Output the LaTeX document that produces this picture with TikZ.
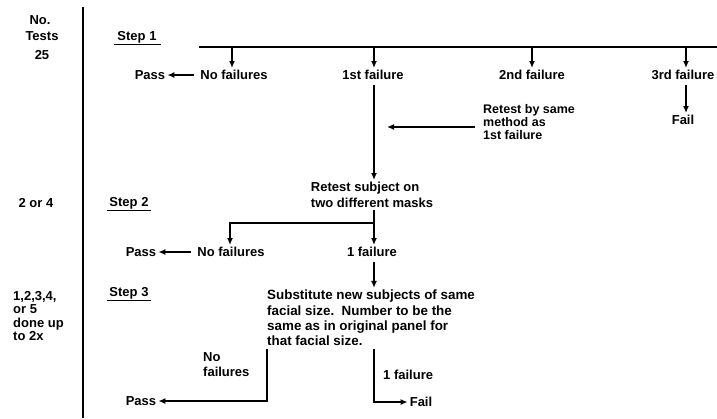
\documentclass[tikz,border=0pt]{standalone}
\usepackage{fontspec}
\setmainfont{Liberation Sans}
\usetikzlibrary{arrows.meta}
\begin{document}
\begin{tikzpicture}[x=1pt,y=-1pt,
  txt/.style={font=\bfseries\fontsize{13}{15}\selectfont, inner sep=2pt},
  ln/.style={line width=1.4pt},
  uline/.style={line width=1.2pt},
  arr/.style={ln,-{Latex[length=7pt,width=6pt]}}]
\useasboundingbox (0,0) rectangle (717,418);
\fill[white] (0,0) rectangle (717,418);
% left column
\node[txt] (no) at (40,20) {No.};
\node[txt] (tests) at (42,36) {Tests};
\node[txt] (t25) at (42,55) {25};
\node[txt] (t24) at (36,203) {2 or 4};
\node[txt, align=left, anchor=west, font=\bfseries\fontsize{13}{13.5}\selectfont] (t3) at (11,316) {1,2,3,4,\\or 5\\done up\\to 2x};
\coordinate (rt) at (83,7);
\coordinate (rb) at (83,418);
\draw[ln] (rt) -- (rb);
% step labels
\node[txt] (s1) at (137,37) {Step 1};
\node[txt] (s2) at (129,203) {Step 2};
\node[txt] (s3) at (129,293) {Step 3};
\draw[uline] ([xshift=-1pt,yshift=-4pt]s1.base west) -- ([xshift=2pt,yshift=-4pt]s1.base east);
\draw[uline] ([xshift=0pt,yshift=-4pt]s2.base west) -- ([xshift=0pt,yshift=-4pt]s2.base east);
\draw[uline] ([xshift=0pt,yshift=-4pt]s3.base west) -- ([xshift=0pt,yshift=-4pt]s3.base east);
% step 1
\coordinate (h1) at (199,47);
\coordinate (h2) at (717,47);
\draw[ln] (h1) -- (h2);
\coordinate (b1) at (232,47);
\coordinate (b2) at (374,47);
\coordinate (b3) at (532,47);
\coordinate (b4) at (686,47);
\node[txt] (nf1) at (234,75) {No failures};
\node[txt] (pass1) at (150,75) {Pass};
\node[txt] (f1) at (373,75) {1st failure};
\node[txt] (f2) at (532,75) {2nd failure};
\node[txt] (f3) at (683,75) {3rd failure};
\node[txt] (fail1) at (683,120) {Fail};
\draw[arr] (b1) -- (b1 |- nf1.north);
\draw[arr] (b2) -- (b2 |- f1.north);
\draw[arr] (b3) -- (b3 |- f2.north);
\draw[arr] (b4) -- (b4 |- f3.north);
\draw[arr, shorten <=4pt] (nf1.west) -- (pass1.east);
\draw[arr, shorten <=3pt] (f3.south -| b4) -- (fail1.north -| b4);
\node[txt, align=left, anchor=west, font=\bfseries\fontsize{12.5}{13}\selectfont] (rn) at (481,122) {Retest by same\\method as\\1st failure};
\coordinate (rtip) at (387,127);
\draw[arr, shorten <=6pt] (rn.west |- rtip) -- (rtip);
% step 2
\node[txt, align=left, font=\bfseries\fontsize{13}{16}\selectfont] (rs) at (372,195) {Retest subject on\\two different masks};
\draw[arr, shorten <=3pt] (f1.south -| b2) -- (b2 |- rs.north);
\node[txt] (f21) at (372,252) {1 failure};
\node[txt] (nf2) at (231,252) {No failures};
\node[txt] (pass2) at (141,252) {Pass};
\coordinate (j2) at (374,223);
\draw[arr] (rs.south -| j2) -- (j2 |- f21.north);
\draw[arr] (j2) -| ([xshift=-1pt]nf2.north);
\draw[arr, shorten <=4pt] (nf2.west) -- (pass2.east);
% step 3
\node[txt, align=left, anchor=west, font=\bfseries\fontsize{13.4}{15.3}\selectfont] (sub) at (265,318) {Substitute new subjects of same\\facial size.\ \ Number to be the\\same as in original panel for\\that facial size.};
\draw[arr, shorten <=3pt] (f21.south -| j2) -- (j2 |- sub.north);
\node[txt] (pass3) at (141,401) {Pass};
\node[txt] (fail3) at (421,402) {Fail};
\node[txt, align=left, anchor=west] (nf3) at (201,365) {No\\failures};
\node[txt, anchor=west] (f31) at (381,375) {1 failure};
\draw[arr] ([xshift=2pt,yshift=-1pt]sub.south west) |- (pass3.east);
\draw[arr] ([yshift=-1pt]sub.south -| j2) |- (fail3.west);
\end{tikzpicture}
\end{document}
